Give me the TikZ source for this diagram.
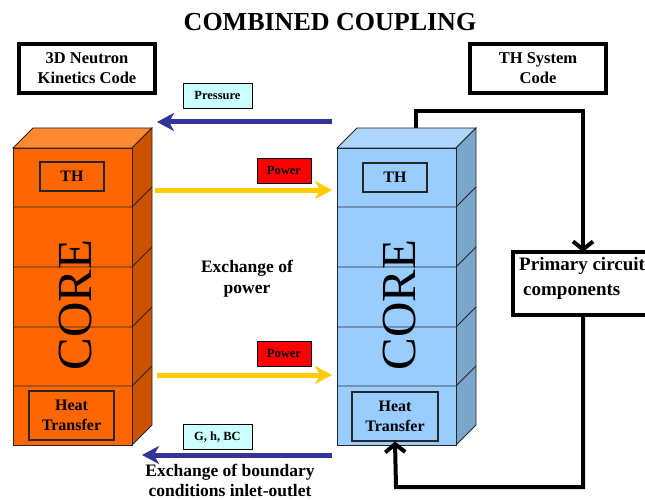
\documentclass[tikz,border=0pt]{standalone}
\usepackage{fontspec}
\setmainfont{Liberation Serif}
\usetikzlibrary{arrows.meta}
\definecolor{orfront}{HTML}{FF6600}
\definecolor{ortop}{HTML}{FF8833}
\definecolor{orside}{HTML}{CC5200}
\definecolor{blfront}{HTML}{99CCFF}
\definecolor{bltop}{HTML}{ADD6FF}
\definecolor{blside}{HTML}{7BA6CC}
\definecolor{darrow}{HTML}{333399}
\definecolor{yarrow}{HTML}{FFCC00}
\definecolor{lcyan}{HTML}{CCFFFF}
\definecolor{pred}{HTML}{FF0000}
\newcommand\corestack[5]{%
  \fill[#3,draw=black!85,line width=0.8pt] (#1,148) -- (#1+20,128) -- (#1+139,128) -- (#1+119,148) -- cycle;
  \fill[#4,draw=black!85,line width=0.8pt] (#1+119,148) -- (#1+139,128) -- (#1+139,425) -- (#1+119,445) -- cycle;
  \node[draw=black!85,fill=#2,line width=0.8pt,minimum width=119pt,minimum height=297pt,inner sep=0pt,anchor=north west] (#5) at (#1,148) {};
  \foreach \yy in {207,267,327,386} {\draw[black!85,line width=0.8pt] (#1,\yy) -- (#1+119,\yy) -- (#1+139,\yy-20);}
  \node[rotate=90,font=\fontsize{49}{49}\selectfont] (#5text) at (#1+63,305) {CORE};
}
\begin{document}
\begin{tikzpicture}[x=1pt,y=-1pt,
  codebox/.style={draw,line width=4pt,fill=white,inner sep=0pt,align=center,font=\bfseries\fontsize{16.5}{20}\selectfont},
  tag/.style={draw,line width=0.8pt,inner sep=0pt,minimum width=69pt,minimum height=25pt,font=\bfseries\fontsize{12.5}{14}\selectfont},
  inbox/.style={draw=black!85,line width=1.2pt,inner sep=0pt,align=center,font=\bfseries\fontsize{16}{20}\selectfont},
  plabel/.style={align=center,font=\bfseries\fontsize{17.5}{21}\selectfont},
  bluearrow/.style={darrow,line width=5pt,-{Stealth[length=17pt,width=18pt,inset=5pt]}},
  yellowarrow/.style={yarrow,line width=5pt,-{Stealth[length=17pt,width=18pt,inset=5pt]}},
  loopline/.style={line width=4pt,-{Straight Barb[length=8pt,width=20pt]}}]
\clip (0,0) rectangle (645,500);
\useasboundingbox (0,0) rectangle (645,500);

\node[font=\bfseries\fontsize{26}{30}\selectfont] (title) at (330,22) {COMBINED COUPLING};
\node[codebox,minimum width=136pt,minimum height=49pt] (nk) at (87,68.5) {3D Neutron\\Kinetics Code};
\node[codebox,minimum width=136pt,minimum height=49pt] (th) at (538,68.5) {TH System\\Code};

\corestack{13}{orfront}{ortop}{orside}{coreL}
\corestack{337}{blfront}{bltop}{blside}{coreR}

\node[inbox,minimum width=64pt,minimum height=29pt] (thL) at (72,176.5) {TH};
\node[inbox,minimum width=64pt,minimum height=29pt] (thR) at (395,177.5) {TH};
\node[inbox,minimum width=85pt,minimum height=49pt] (htL) at (71.5,415.5) {Heat\\Transfer};
\node[inbox,minimum width=86pt,minimum height=49pt] (htR) at (395,416.5) {Heat\\Transfer};

\node[tag,fill=lcyan] (press) at (217.5,95.5) {Pressure};
\node[tag,fill=pred,minimum width=54pt] (pow1) at (284,170.5) {Power};
\node[tag,fill=pred,minimum width=54pt] (pow2) at (284,353.5) {Power};
\node[tag,fill=lcyan] (ghbc) at (217.5,437) {G, h, BC};

\coordinate (pA) at (332,122);
\coordinate (pB) at (157,122);
\coordinate (yA1) at (155,190);
\coordinate (yB1) at (332,190);
\coordinate (yA2) at (157,375);
\coordinate (yB2) at (332,375);
\coordinate (gA) at (332,455);
\coordinate (gB) at (142,455);
\draw[bluearrow] (pA) -- (pB);
\draw[yellowarrow] (yA1) -- (yB1);
\draw[yellowarrow] (yA2) -- (yB2);
\draw[bluearrow] (gA) -- (gB);

\node[plabel] (exp) at (247,278.5) {Exchange of\\power};
\node[align=center,font=\bfseries\fontsize{17.5}{20}\selectfont] (exbc) at (230,480.5) {Exchange of boundary\\conditions inlet-outlet};

\node[fill=white,minimum width=170pt,minimum height=63pt,inner sep=0pt,anchor=north west] (pc) at (513,252) {};
\draw[line width=4pt] (pc.north east) -- (pc.north west) -- (pc.south west) -- (pc.south east);
\node[anchor=west,align=left,inner sep=0pt,font=\bfseries\fontsize{19}{25}\selectfont] (pct) at (519,278) {Primary circuit\\\hspace*{4pt}components};

\coordinate (s0) at (416,128);
\draw[loopline] (s0) -- (416,111) -- (583,111) -- (pc.north -| 583,111);
\draw[loopline] (pc.south -| 583,111) -- (583,487) -- (396,487) -- (htR.south);
\end{tikzpicture}
\end{document}
